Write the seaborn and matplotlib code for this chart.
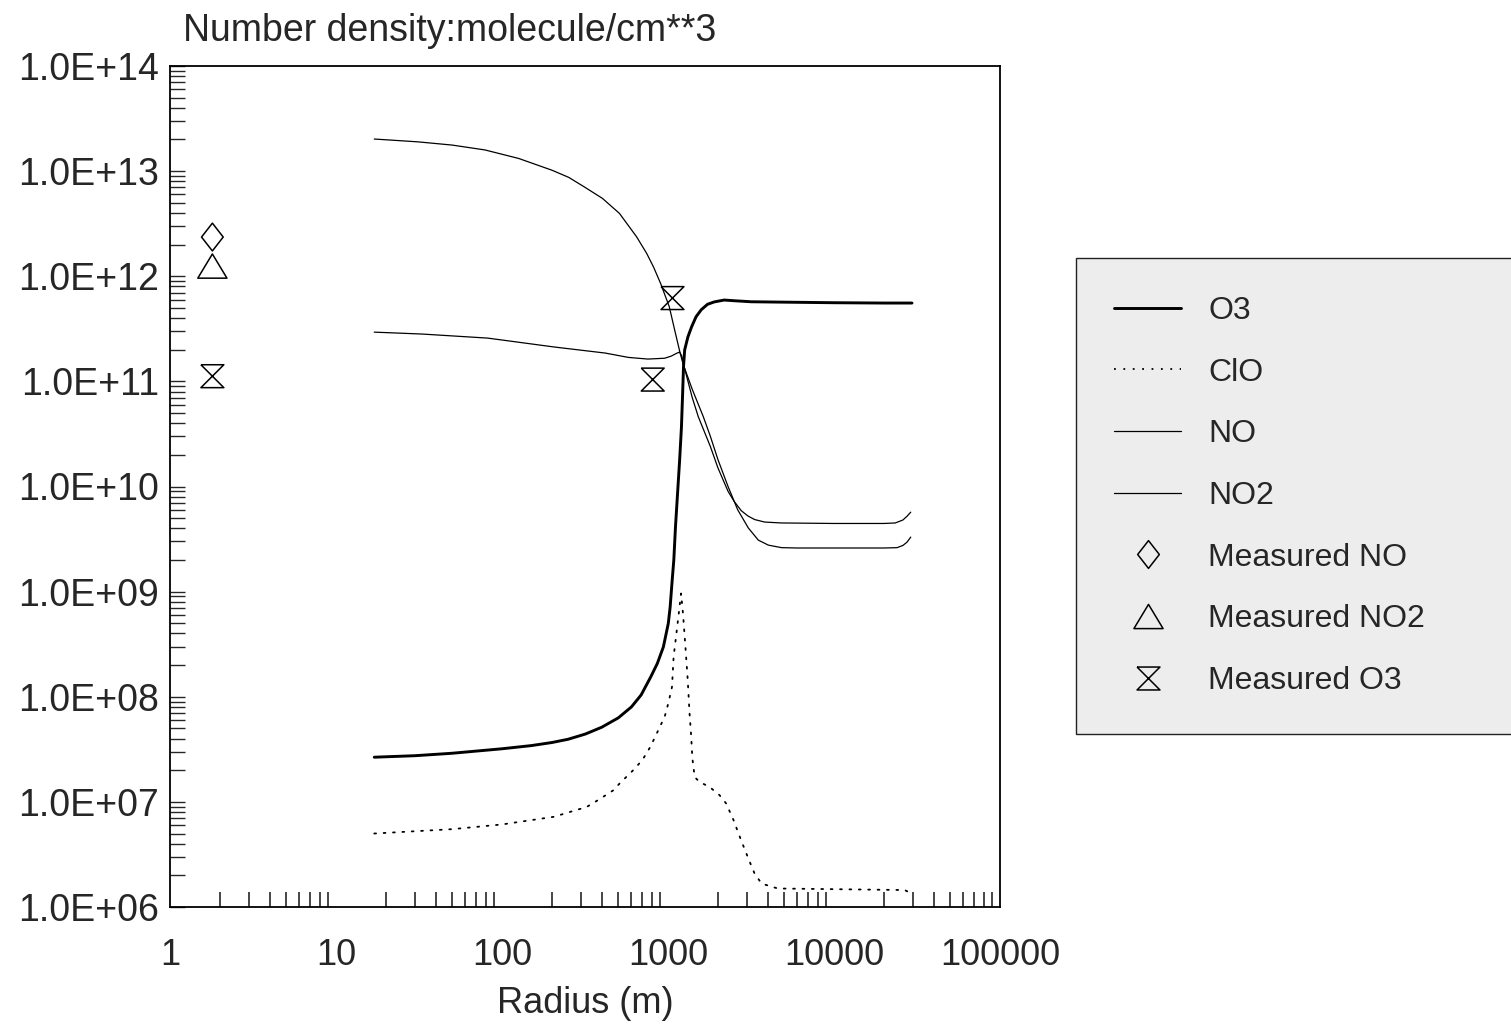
import numpy as np
import pandas as pd
import matplotlib
matplotlib.use("Agg")
import matplotlib.pyplot as plt
import seaborn as sns
from matplotlib.path import Path
from matplotlib.lines import Line2D
from matplotlib.ticker import FixedLocator, FixedFormatter, NullFormatter

# ---------------- data ----------------
o3_radius = [17, 30, 50, 100, 150, 200, 250, 318, 399, 502, 602, 689, 788, 862, 938,
             1004, 1030, 1060, 1084, 1109, 1142, 1175, 1205, 1225, 1240, 1260, 1318,
             1387, 1476, 1586, 1730, 1900, 2178, 2500, 3160, 4530, 10000, 20000, 29500]
o3_density = [2.66e7, 2.75e7, 2.9e7, 3.2e7, 3.43e7, 3.67e7, 3.94e7, 4.42e7, 5.13e7,
              6.3e7, 8.0e7, 1.04e8, 1.55e8, 2.07e8, 2.98e8, 4.98e8, 7.1e8, 1.29e9,
              2.0e9, 4.1e9, 8.65e9, 1.78e10, 3.67e10, 7.7e10, 1.38e11, 1.99e11,
              2.65e11, 3.3e11, 4.12e11, 4.8e11, 5.41e11, 5.7e11, 5.94e11, 5.85e11,
              5.72e11, 5.68e11, 5.6e11, 5.56e11, 5.56e11]

clo_radius = [17, 50, 100, 204, 240, 275, 322, 364, 408, 469, 512, 617, 701, 783, 855,
              955, 1005, 1057, 1081, 1130, 1199, 1231, 1273, 1315, 1348, 1380, 1400,
              1448, 1549, 1786, 2042, 2240, 2483, 2660, 2865, 3076, 3315, 3660, 4585,
              26700, 29000]
clo_density = [5.0e6, 5.5e6, 6.1e6, 7.2e6, 7.76e6, 8.3e6, 8.9e6, 1.0e7, 1.12e7, 1.29e7,
               1.5e7, 2.0e7, 2.5e7, 3.34e7, 4.47e7, 6.46e7, 8.7e7, 1.24e8, 2.4e8,
               4.3e8, 9.6e8, 6.2e8, 3.0e8, 1.44e8, 7.0e7, 4.16e7, 2.66e7, 1.72e7,
               1.55e7, 1.38e7, 1.16e7, 9.66e6, 6.7e6, 5.0e6, 3.7e6, 2.79e6, 2.1e6,
               1.67e6, 1.5e6, 1.45e6, 1.35e6]

no_radius = [17, 31, 50, 79, 126, 200, 252, 314, 403, 510, 646, 744, 819, 902, 1018,
             1097, 1183, 1235, 1400, 1633, 1800, 2000, 2300, 2630, 3048, 3500, 4020,
             4830, 6000, 10000, 20000, 24000, 26000, 27500, 29000]
no_density = [2.02e13, 1.9e13, 1.77e13, 1.59e13, 1.32e13, 1.02e13, 8.73e12, 7.06e12,
              5.5e12, 3.96e12, 2.38e12, 1.65e12, 1.22e12, 8.56e11, 5.13e11, 3.08e11,
              1.86e11, 1.45e11, 8.4e10, 4.6e10, 3.0e10, 1.8e10, 1.0e10, 6.0e9, 4.03e9,
              3.09e9, 2.77e9, 2.62e9, 2.6e9, 2.6e9, 2.6e9, 2.62e9, 2.75e9, 2.95e9,
              3.3e9]

no2_radius = [17, 33, 82, 208, 418, 578, 757, 955, 1047, 1135, 1175, 1210, 1235, 1400,
              1523, 1800, 2000, 2300, 2500, 2762, 3027, 3323, 3820, 4810, 10000,
              20000, 23400, 26000, 27500, 29000]
no2_density = [2.94e11, 2.82e11, 2.58e11, 2.12e11, 1.86e11, 1.69e11, 1.63e11, 1.66e11,
               1.74e11, 1.86e11, 1.9e11, 1.75e11, 1.49e11, 7.0e10, 4.6e10, 2.4e10,
               1.5e10, 9.0e9, 7.24e9, 5.89e9, 5.25e9, 4.85e9, 4.59e9, 4.5e9, 4.45e9,
               4.45e9, 4.5e9, 4.8e9, 5.2e9, 5.7e9]

meas_no_radius = [1.8]
meas_no_density = [2.36e12]
meas_no2_radius = [1.8]
meas_no2_density = [1.25e12]
meas_o3_radius = [1.8, 809, 1064]
meas_o3_density = [1.12e11, 1.04e11, 6.2e11]

x_ticks = [1, 10, 100, 1000, 10000, 100000]
x_tick_labels = ["1", "10", "100", "1000", "10000", "100000"]
y_ticks = [1e6, 1e7, 1e8, 1e9, 1e10, 1e11, 1e12, 1e13, 1e14]
y_tick_labels = ["1.0E+06", "1.0E+07", "1.0E+08", "1.0E+09", "1.0E+10",
                 "1.0E+11", "1.0E+12", "1.0E+13", "1.0E+14"]

# ---------------- style ----------------
sns.set_style("white")
plt.rcParams["font.family"] = ["Liberation Sans", "DejaVu Sans"]

W, H = 1511, 1024
fig = plt.figure(figsize=(W / 100, H / 100), dpi=100)
fig.patch.set_facecolor("white")
ax = fig.add_axes([170 / W, 1 - 907 / H, (1000 - 170) / W, (907 - 66) / H])
ax.set_xscale("log")
ax.set_yscale("log")

# model profiles
sns.lineplot(x=o3_radius, y=o3_density, ax=ax, color="black", linewidth=2.1,
             estimator=None, sort=False, legend=False)
sns.lineplot(x=clo_radius, y=clo_density, ax=ax, color="black", linewidth=1.3,
             linestyle=(0, (1, 4.2)), dash_capstyle="round",
             estimator=None, sort=False, legend=False)
sns.lineplot(x=no_radius, y=no_density, ax=ax, color="black", linewidth=0.9,
             estimator=None, sort=False, legend=False)
sns.lineplot(x=no2_radius, y=no2_density, ax=ax, color="black", linewidth=0.9,
             estimator=None, sort=False, legend=False)

# open marker shapes
diamond = Path([(0, 1), (0.78, 0), (0, -1), (-0.78, 0), (0, 1)],
               [Path.MOVETO, Path.LINETO, Path.LINETO, Path.LINETO, Path.CLOSEPOLY])
triangle = Path([(0, 0.83), (-1, -0.83), (1, -0.83), (0, 0.83)],
                [Path.MOVETO, Path.LINETO, Path.LINETO, Path.CLOSEPOLY])
hourglass = Path([(-1, 1), (1, 1), (-1, -1), (1, -1), (-1, 1)],
                 [Path.MOVETO, Path.LINETO, Path.LINETO, Path.LINETO, Path.LINETO])

marker_kw = dict(facecolor="none", edgecolor="black", linewidth=1.1, legend=False,
                 zorder=5)
sns.scatterplot(x=meas_no_radius, y=meas_no_density, ax=ax, marker=diamond,
                s=20 ** 2, **marker_kw)
sns.scatterplot(x=meas_no2_radius, y=meas_no2_density, ax=ax, marker=triangle,
                s=21 ** 2, **marker_kw)
sns.scatterplot(x=meas_o3_radius, y=meas_o3_density, ax=ax, marker=hourglass,
                s=16.5 ** 2, **marker_kw)

ax.set_xlim(1, 1e5)
ax.set_ylim(1e6, 1e14)

# axes ticks
ax.xaxis.set_major_locator(FixedLocator(x_ticks))
ax.xaxis.set_major_formatter(FixedFormatter(x_tick_labels))
ax.xaxis.set_minor_locator(FixedLocator(
    [m * 10 ** e for e in range(0, 5) for m in range(2, 10)]))
ax.xaxis.set_minor_formatter(NullFormatter())
ax.yaxis.set_major_locator(FixedLocator(y_ticks))
ax.yaxis.set_major_formatter(FixedFormatter(y_tick_labels))
ax.yaxis.set_minor_locator(FixedLocator(
    [m * 10 ** e for e in range(6, 14) for m in range(2, 10)]))
ax.yaxis.set_minor_formatter(NullFormatter())

ax.tick_params(axis="x", which="major", length=0, pad=22, labelsize=26,
               bottom=True, top=False)
ax.tick_params(axis="x", which="minor", length=11, width=1.2, direction="in",
               bottom=True, top=False)
ax.tick_params(axis="y", which="major", length=11, width=1.0, direction="in",
               pad=8, labelsize=27, left=True, right=False)
ax.tick_params(axis="y", which="minor", length=11, width=1.0, direction="in",
               left=True, right=False)

for sp in ax.spines.values():
    sp.set_visible(True)
    sp.set_color("black")
    sp.set_linewidth(1.3)

ax.set_xlabel("Radius (m)", fontsize=26, labelpad=10)
ax.set_ylabel("")
ax.grid(False)

fig.text(183 / W, 1 - 41 / H, "Number density:molecule/cm**3", fontsize=27,
         ha="left", va="baseline")

# legend
handles = [
    Line2D([], [], color="black", linewidth=2.1),
    Line2D([], [], color="black", linewidth=1.3, linestyle=(0, (1, 4.2))),
    Line2D([], [], color="black", linewidth=0.9),
    Line2D([], [], color="black", linewidth=0.9),
    Line2D([], [], linestyle="none", marker=diamond, markersize=20,
           markerfacecolor="none", markeredgecolor="black", markeredgewidth=1.1),
    Line2D([], [], linestyle="none", marker=triangle, markersize=21,
           markerfacecolor="none", markeredgecolor="black", markeredgewidth=1.1),
    Line2D([], [], linestyle="none", marker=hourglass, markersize=16.5,
           markerfacecolor="none", markeredgecolor="black", markeredgewidth=1.1),
]
labels = ["O3", "ClO", "NO", "NO2", "Measured NO", "Measured NO2", "Measured O3"]
leg = fig.legend(handles, labels, loc="upper left",
                 bbox_to_anchor=(1076 / W, 1 - 718 / H, 0.4, 460 / H),
                 mode="expand", fontsize=23, frameon=True, fancybox=False,
                 shadow=False, borderpad=1.19, labelspacing=0.99,
                 handlelength=2.1, handletextpad=0.85, numpoints=1,
                 borderaxespad=0)
frame = leg.get_frame()
frame.set_facecolor("#ededed")
frame.set_edgecolor("#222222")
frame.set_linewidth(1.0)
frame.set_alpha(1)

fig.savefig("out.png", dpi=100)
